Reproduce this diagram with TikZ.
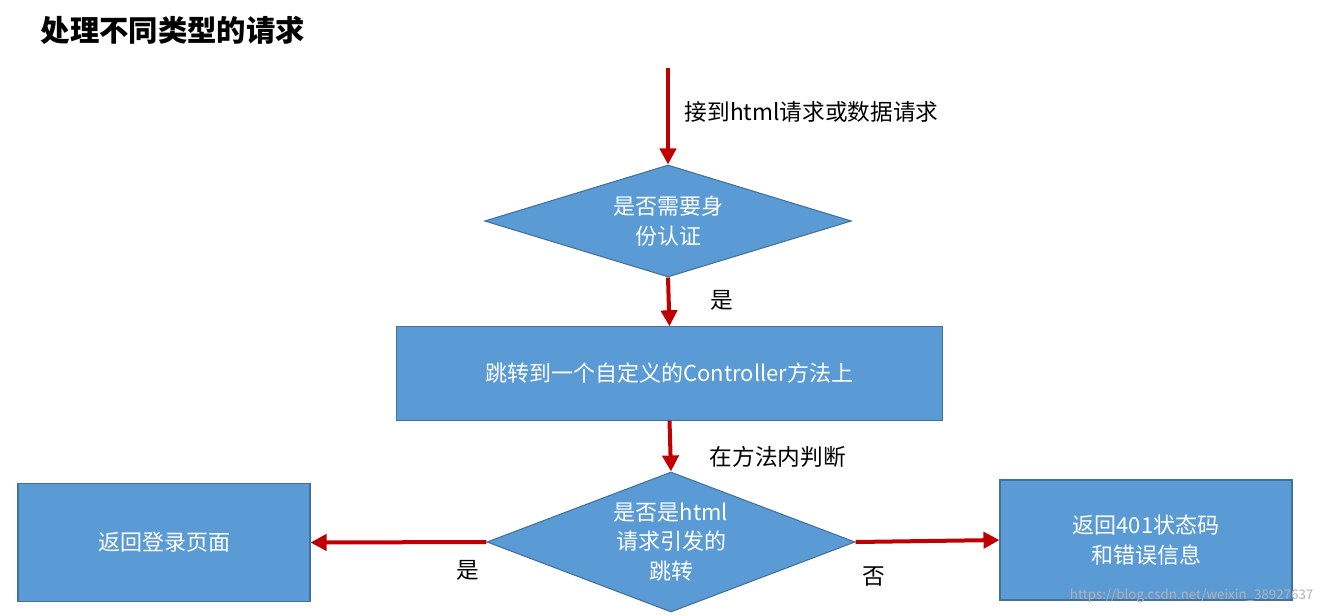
\documentclass[tikz,border=0pt]{standalone}
\usepackage{fontspec}
\setmainfont{Noto Sans CJK SC}
\usetikzlibrary{shapes.geometric,arrows.meta}
\definecolor{boxblue}{HTML}{5B9BD5}
\definecolor{boxedge}{HTML}{41719C}
\definecolor{arrred}{HTML}{C00000}
\begin{document}
\begin{tikzpicture}[x=0.75pt,y=-0.75pt,
  box/.style={draw=boxedge,fill=boxblue,line width=0.8pt,text=white,font=\fontsize{16.5}{22}\selectfont,align=center},
  arr/.style={draw=arrred,line width=3pt,-{Triangle[length=12pt,width=12pt]}},
  lbl/.style={font=\fontsize{17}{20}\selectfont,anchor=west}]
\useasboundingbox (0,0) rectangle (1327,615);
\fill[white] (0,0) rectangle (1327,615);
\node[anchor=west,font=\fontsize{22}{26}\selectfont\bfseries] (title) at (36,30) {处理不同类型的请求};
\coordinate (start) at (668,68);
\node[box,diamond,minimum width=367\pgflinewidth,inner sep=0pt,minimum width=275pt,minimum height=84pt,aspect=3.3] (d1) at (668,221) {是否需要身\\份认证};
\node[box,minimum width=409pt,minimum height=70pt,inner sep=0pt] (r1) at (669.5,373.5) {跳转到一个自定义的Controller方法上};
\node[box,diamond,inner sep=0pt,minimum width=276pt,minimum height=105pt,aspect=2.6] (d2) at (671,542) {是否是html\\请求引发的\\跳转};
\node[box,minimum width=219pt,minimum height=89pt,inner sep=0pt] (rl) at (164,542.5) {返回登录页面};
\node[box,minimum width=219pt,minimum height=90pt,inner sep=0pt] (rr) at (1146,540) {返回401状态码\\和错误信息};
\draw[arr] (start) -- (d1.north);
\draw[arr] (d1.south) -- (r1.north);
\draw[arr] (r1.south) -- (d2.north);
\draw[arr] (d2.west) -- (rl.east);
\draw[arr] (d2.east) -- (rr.west);
\node[lbl] (l1) at (680,112) {接到html请求或数据请求};
\node[lbl] (l2) at (706,300) {是};
\node[lbl] (l3) at (705,457) {在方法内判断};
\node[lbl] (l4) at (452,570) {是};
\node[lbl] (l5) at (858,577) {否};
\node[anchor=east,text=gray!60,font=\fontsize{10}{12}\selectfont] (wm) at (1318,596) {https://blog.csdn.net/weixin\_38927637};
\end{tikzpicture}
\end{document}
